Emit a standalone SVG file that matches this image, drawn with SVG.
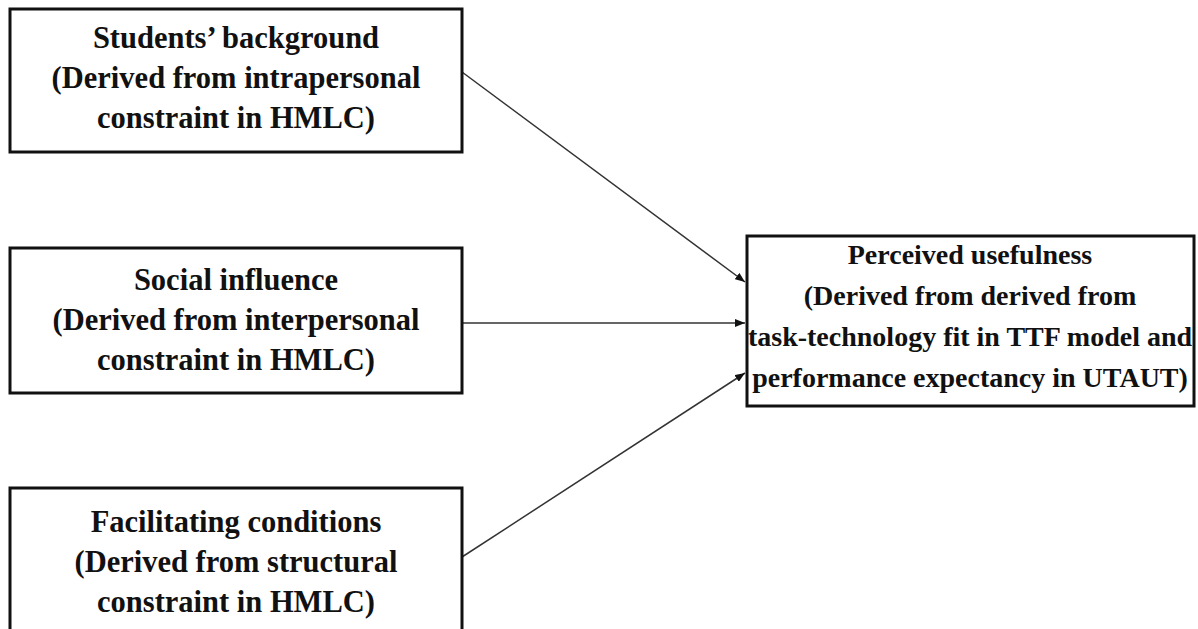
<svg xmlns="http://www.w3.org/2000/svg" width="1198" height="629" viewBox="0 0 1198 629">
  <style>
    .box { fill: #ffffff; stroke: #111111; stroke-width: 3; }
    .t { font-family: "Liberation Serif", "Times New Roman", serif; font-weight: bold; font-size: 30.5px; fill: #111111; text-anchor: middle; }
    .tr { font-size: 28px; }
    .edge { stroke: #333333; stroke-width: 1.5; fill: none; marker-end: url(#arrow); }
  </style>
  <defs>
    <marker id="arrow" viewBox="0 0 10 8" refX="10" refY="4" markerWidth="10" markerHeight="8" markerUnits="userSpaceOnUse" orient="auto">
      <path d="M0,0 L10,4 L0,8 Z" fill="#111111"/>
    </marker>
  </defs>
  <rect width="1198" height="629" fill="#ffffff"/>
  <g id="connectors">
    <line class="edge" x1="462" y1="72" x2="745" y2="282"/>
    <line class="edge" x1="462" y1="323" x2="745" y2="323"/>
    <line class="edge" x1="462" y1="557" x2="745" y2="373"/>
  </g>
  <g id="students-background">
    <rect class="box" x="10" y="9" width="452" height="143"/>
    <text class="t" x="236" y="48">Students’ background</text>
    <text class="t" x="236" y="88">(Derived from intrapersonal</text>
    <text class="t" x="236" y="128">constraint in HMLC)</text>
  </g>
  <g id="social-influence">
    <rect class="box" x="10" y="248" width="452" height="145"/>
    <text class="t" x="236" y="290">Social influence</text>
    <text class="t" x="236" y="330">(Derived from interpersonal</text>
    <text class="t" x="236" y="370">constraint in HMLC)</text>
  </g>
  <g id="facilitating-conditions">
    <rect class="box" x="10" y="488" width="452" height="146"/>
    <text class="t" x="236" y="532">Facilitating conditions</text>
    <text class="t" x="236" y="572">(Derived from structural</text>
    <text class="t" x="236" y="612">constraint in HMLC)</text>
  </g>
  <g id="perceived-usefulness">
    <rect class="box" x="747" y="236" width="447" height="170"/>
    <text class="t tr" x="970" y="264">Perceived usefulness</text>
    <text class="t tr" x="970" y="305">(Derived from derived from</text>
    <text class="t tr" x="970" y="346">task-technology fit in TTF model and</text>
    <text class="t tr" x="970" y="387">performance expectancy in UTAUT)</text>
  </g>
</svg>
